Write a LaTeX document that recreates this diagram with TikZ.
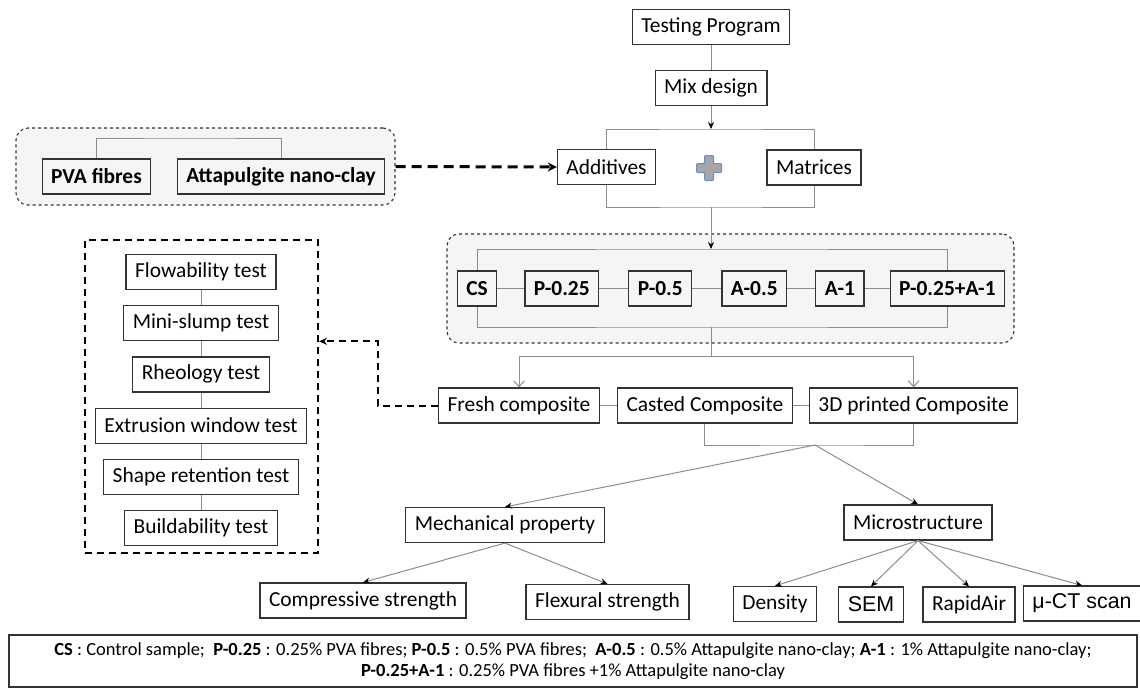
\documentclass[tikz,border=0pt]{standalone}
\usepackage{fontspec}
\setmainfont{Carlito}
\newfontfamily\arialfont{Liberation Sans}
\usepackage{tikz}
\usetikzlibrary{arrows.meta,positioning}

\definecolor{boxc}{HTML}{333333}
\definecolor{linkc}{HTML}{8C8C8C}
\definecolor{grpc}{HTML}{F5F5F5}
\definecolor{plusc}{HTML}{A6A6A6}
\definecolor{plusb}{HTML}{6A8CC0}
\newcommand{\boxfont}{\fontsize{21.4}{24}\selectfont}
\newcommand{\legfont}{\fontsize{18.5}{21}\selectfont}

\begin{document}
\begin{tikzpicture}[x=1pt,y=-1pt,node distance=15pt,
		box/.style={draw=boxc,line width=1.2pt,inner xsep=9pt,inner ysep=0pt,minimum height=35pt,font=\boxfont},
		bbox/.style={box,font=\boxfont\bfseries},
		grp/.style={draw=boxc,fill=grpc,dashed,line width=1.1pt,rounded corners=12pt},
		link/.style={draw=linkc,line width=1pt},
		arr/.style={link,-{Stealth[black,length=7pt,width=6pt]}},
		varr/.style={link,-{Straight Barb[linkc,length=6pt,width=11pt]}},
		dasharr/.style={line width=2pt,dash pattern=on 7pt off 5pt,-{Stealth[length=8pt,width=7pt]}}]
	\useasboundingbox (0,0) rectangle (1140,688);
	\node[grp,minimum width=379pt,minimum height=77pt] (g_0) at (205.5,166.5) {};
	\node[grp,minimum width=567pt,minimum height=109pt] (g_1) at (730.5,288.5) {};
	\node[draw,line width=2pt,dash pattern=on 7pt off 5pt,minimum width=233pt,minimum height=313pt] (g_2) at (201.5,396.5) {};
	\node[box] (tp) at (711,27) {Testing Program};
	\node[box] (mix) at (711,88) {Mix design};
	\node[box] (add) at (606.5,167) {Additives};
	\node[box] (mat) at (814,167.5) {Matrices};
	\node[bbox] (pva) at (96.5,176.5) {PVA fibres};
	\node[bbox] (att) at (281,176.5) {Attapulgite nano-clay};
	\node[bbox] (s_0) at (477,288.5) {CS};
	\node[bbox,right=27pt of s_0] (s_1) {P-0.25};
	\node[bbox,right=29pt of s_1] (s_2) {P-0.5};
	\node[bbox,right=29pt of s_2] (s_3) {A-0.5};
	\node[bbox,right=28pt of s_3] (s_4) {A-1};
	\node[bbox,right=25pt of s_4] (s_5) {P-0.25+A-1};
	\node[box] (f_0) at (519,405.5) {Fresh composite};
	\node[box,right=17pt of f_0] (f_1) {Casted Composite};
	\node[box,right=16pt of f_1] (f_2) {3D printed Composite};
	\node[box] (t_0) at (201,272) {Flowability test};
	\node[box,below=of t_0] (t_1) {Mini-slump test};
	\node[box,below=of t_1] (t_2) {Rheology test};
	\node[box,below=of t_2] (t_3) {Extrusion window test};
	\node[box,below=of t_3] (t_4) {Shape retention test};
	\node[box,below=of t_4] (t_5) {Buildability test};
	\node[box] (mp) at (505,525) {Mechanical property};
	\node[box] (ms) at (918,522.5) {Microstructure};
	\node[box] (c_0) at (363,600.5) {Compressive strength};
	\node[box] (c_1) at (607.5,602) {Flexural strength};
	\node[box] (m_0) at (775,604) {Density};
	\node[box,font=\boxfont\arialfont] (m_1) at (871,604.5) {SEM};
	\node[box] (m_2) at (969,604.5) {RapidAir};
	\node[box,font=\boxfont\arialfont] (m_3) at (1082,603.5) {μ-CT scan};
	\node[draw=boxc,line width=1.2pt,minimum width=1128pt,minimum height=52pt,align=center,font=\legfont] (leg) at (573,661) {\textbf{CS} : Control sample;\ \ \textbf{P-0.25} : 0.25\% PVA fibres; \textbf{P-0.5} : 0.5\% PVA fibres;\ \ \textbf{A-0.5} : 0.5\% Attapulgite nano-clay; \textbf{A-1} : 1\% Attapulgite nano-clay;\\ \textbf{P-0.25+A-1} : 0.25\% PVA fibres +1\% Attapulgite nano-clay};
	\coordinate (b_0) at (711,129);
	\coordinate (b_1) at (711,207);
	\coordinate (b_2) at (711,249);
	\coordinate (b_3) at (711,327);
	\coordinate (b_4) at (711,356);
	\coordinate (b_5) at (815,445);
	\coordinate (b_6) at (190,138);
	\draw[plusb,fill=plusc,line width=1pt,rounded corners=1pt] (709,168) ++(-4.5,-12.5) -- ++(9,0) -- ++(0,8) -- ++(8,0) -- ++(0,9) -- ++(-8,0) -- ++(0,8) -- ++(-9,0) -- ++(0,-8) -- ++(-8,0) -- ++(0,-9) -- ++(8,0) -- cycle;
	\draw[link] (tp) -- (mix);
	\draw[arr] (mix) -- (b_0);
	\draw[link] (add.north) |- (b_0) -| (mat.north);
	\draw[link] (add.south) |- (b_1) -| (mat.south);
	\draw[arr] (b_1) -- (b_2);
	\draw[link] (s_0.north) |- (b_2) -| (s_5.north);
	\draw[link] (s_0.south) |- (b_3) -| (s_5.south);
	\foreach \i [count=\j] in {0,...,4} \draw[link] (s_\i) -- (s_\j);
	\draw[link] (b_3) -- (b_4);
	\draw[varr] (b_4) -| (f_0.north);
	\draw[varr] (b_4) -| (f_2.north);
	\draw[link] (f_0) -- (f_1);
	\draw[link] (f_1) -- (f_2);
	\draw[link] (f_1.south) |- (b_5) -| (f_2.south);
	\draw[arr] (b_5) -- (mp.north);
	\draw[arr] (b_5) -- (ms.north);
	\draw[arr] (mp.south) -- (c_0.north);
	\draw[arr] (mp.south) -- (c_1.north);
	\foreach \i in {0,...,3} \draw[arr] (ms.south) -- (m_\i.north);
	\foreach \i [count=\j] in {0,...,4} \draw[link] (t_\i) -- (t_\j);
	\draw[link] (pva.north) |- (b_6) -| (att.north);
	\draw[line width=3pt,dash pattern=on 10pt off 6pt,-{Stealth[length=9pt,width=9pt]}] (g_0.east) -- (add.west);
	\draw[dasharr] (f_0.west) -- ++(-60,0) |- (g_2.east |- t_1.south);
\end{tikzpicture}
\end{document}
